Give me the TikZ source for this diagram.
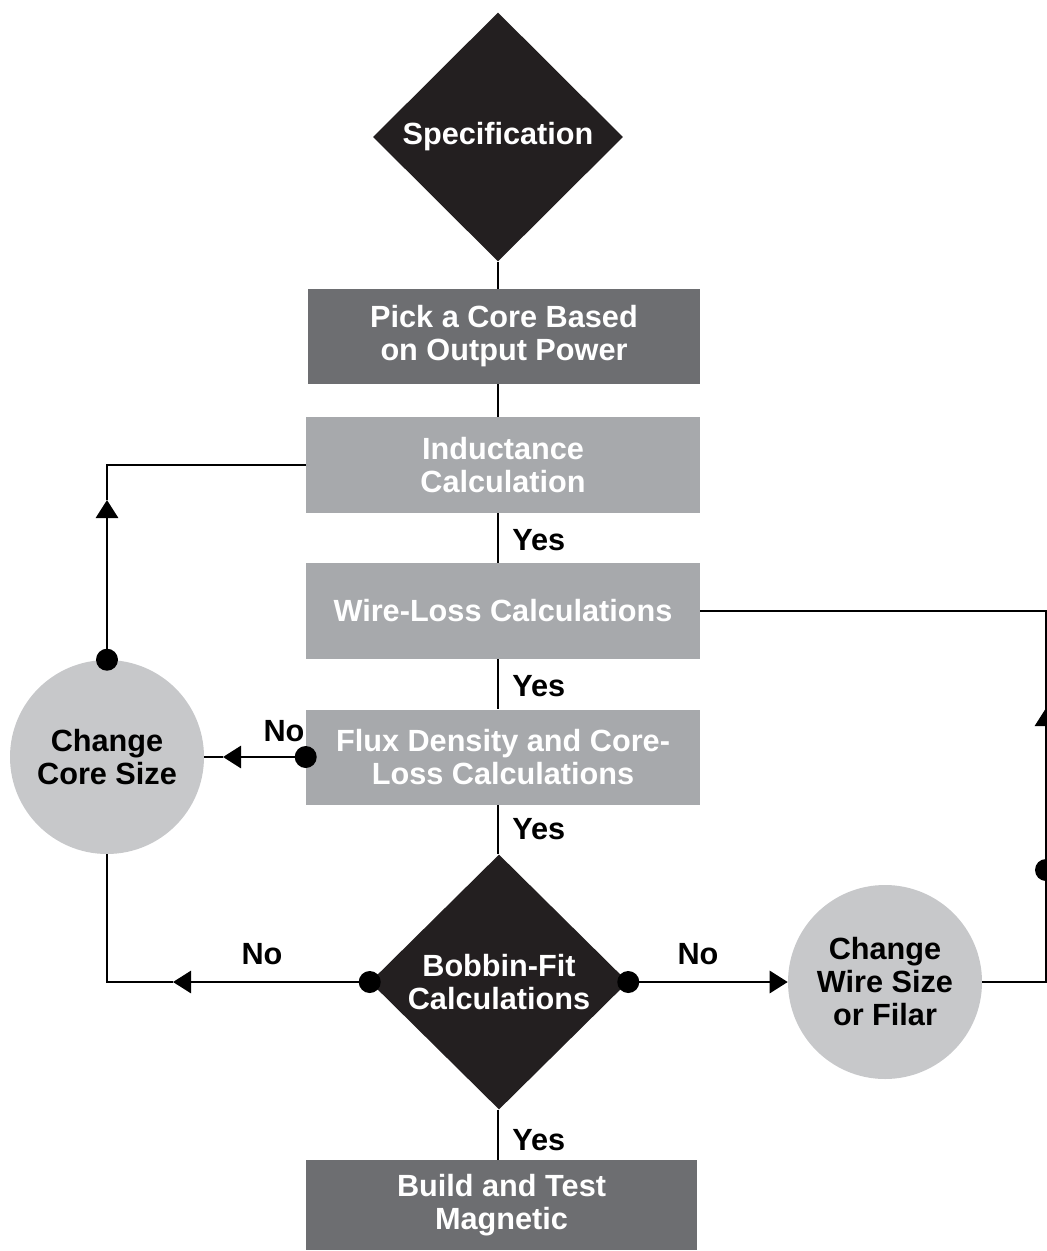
\documentclass[tikz,border=0pt]{standalone}
\usepackage{fontspec}
\setmainfont{Liberation Sans}
\usetikzlibrary{shapes.geometric,arrows.meta}
\definecolor{diacol}{HTML}{231F20}
\definecolor{darkbox}{HTML}{6D6E71}
\definecolor{lightbox}{HTML}{A7A9AC}
\definecolor{circcol}{HTML}{C7C8CA}
\begin{document}
\begin{tikzpicture}[x=0.75pt,y=-0.75pt,
  every node/.style={font=\bfseries\fontsize{23}{24.75}\selectfont, align=center, inner sep=0pt},
  dia/.style={diamond, fill=diacol, text=white, shape aspect=1},
  dbox/.style={rectangle, fill=darkbox, text=white, minimum width=294pt},
  lbox/.style={rectangle, fill=lightbox, text=white, minimum width=295.5pt, minimum height=72pt},
  circ/.style={circle, fill=circcol, text=black, minimum size=145.5pt},
  dotnode/.style={circle, fill=black, minimum size=16.5pt},
  lab/.style={text=black},
  conn/.style={line width=2.2pt, draw=black},
  tip/.style={conn, -{Triangle[length=13.5pt,width=16.5pt]}}
]
\useasboundingbox (0,0) rectangle (1046,1251);
% shapes
\node[dia, minimum width=187.5pt, minimum height=186.75pt] (spec) at (498,137) {Specification};
\node[dbox, minimum height=71.25pt] (pick) at (504,336.5) {Pick a Core Based\\on Output Power};
\node[lbox] (ind) at (503,465) {Inductance\\Calculation};
\node[lbox] (wire) at (503,611) {Wire-Loss Calculations};
\node[lbox, minimum height=71.25pt] (flux) at (503,757) {Flux Density and Core-\\Loss Calculations};
\node[dia, minimum width=193.5pt, minimum height=191.25pt] (bob) at (499,982) {Bobbin-Fit\\Calculations};
\node[dbox, minimum width=293.25pt, minimum height=67.5pt] (build) at (501.5,1205) {Build and Test\\Magnetic};
\node[circ] (core) at (107,757) {Change\\Core Size};
\node[circ] (wsize) at (885,982) {Change\\Wire Size\\or Filar};

% coordinates
\coordinate (c1) at (107,465);
\coordinate (t1) at (107,500);
\coordinate (t2) at (223,757);
\coordinate (c2) at (107,982);
\coordinate (t3) at (173,982);
\coordinate (c3) at (1046,982);
\coordinate (c4) at (1046,611);
\coordinate (t4) at (1046,708);

% vertical main connectors
\draw[conn] (spec.south) -- (spec.south |- pick.north);
\draw[conn] (spec.south |- pick.south) -- (spec.south |- ind.north);
\draw[conn] (spec.south |- ind.south) -- (spec.south |- wire.north);
\draw[conn] (spec.south |- wire.south) -- (spec.south |- flux.north);
\draw[conn] (spec.south |- flux.south) -- (bob.north -| spec.south);
\draw[conn] (bob.south -| spec.south) -- (spec.south |- build.north);

% dots
\node[dotnode] (d1) at (core.north) {};
\node[dotnode] (d2) at (flux.west) {};
\node[dotnode] (d3) at (bob.west) {};
\node[dotnode] (d4) at (bob.east) {};
\node[dotnode] (d5) at (1046,870) {};

% loop connectors
\draw[tip] (d1.center) -- (t1);
\draw[conn] (t1) -- (c1) -- (ind.west);
\draw[tip] (d2.center) -- (t2);
\draw[conn] (t2) -- (core.east);
\draw[conn] (core.south) -- (c2) -- (t3);
\draw[tip] (d3.center) -- (t3);
\draw[tip] (d4.center) -- (wsize.west);
\draw[conn] (wsize.east) -- (c3) -- (c4) -- (wire.east);
\draw[tip] (d5.center) -- (t4);

% labels
\node[lab, anchor=west] (y1) at (512,540) {Yes};
\node[lab, anchor=west] (y2) at (512,686) {Yes};
\node[lab, anchor=west] (y3) at (512,829) {Yes};
\node[lab, anchor=west] (y4) at (512,1140) {Yes};
\node[lab] (n1) at (284,731) {No};
\node[lab] (n2) at (262,954) {No};
\node[lab] (n3) at (698,954) {No};
\end{tikzpicture}
\end{document}
